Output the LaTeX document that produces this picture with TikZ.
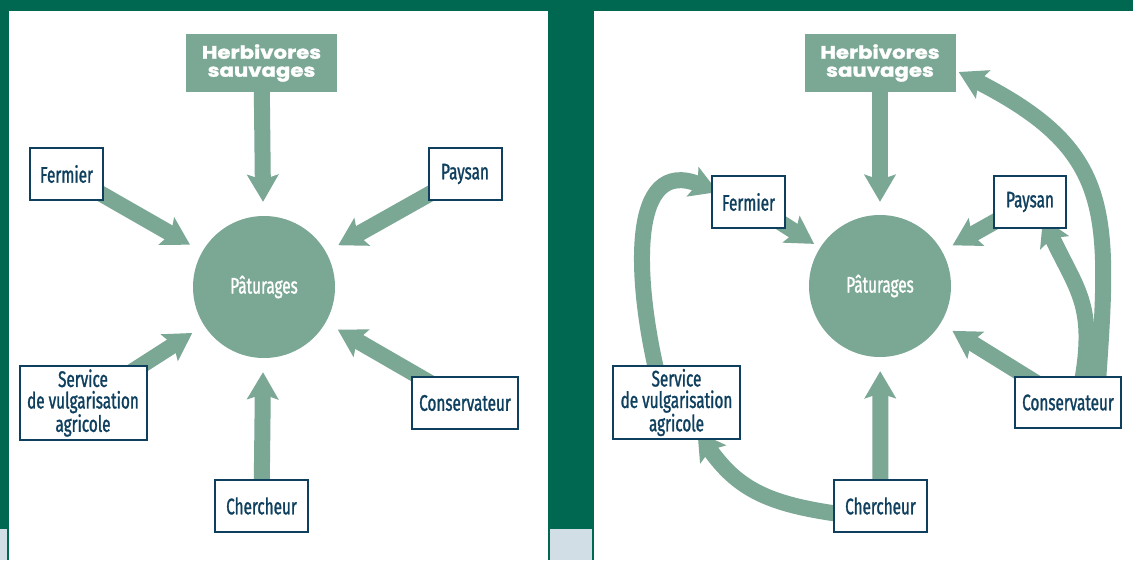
\documentclass[tikz,border=0pt]{standalone}
\usepackage{fontspec}
\usetikzlibrary{arrows.meta}
\newfontfamily\boxfont[FakeStretch=0.68,FakeBold=1.2]{Fira Sans}
\newfontfamily\headfont[FakeStretch=1.18,FakeBold=1.5]{Poppins}
\definecolor{darkgreen}{RGB}{0,104,80}
\definecolor{sage}{RGB}{123,167,149}
\definecolor{navy}{RGB}{14,63,94}
\definecolor{paleblue}{RGB}{209,222,230}
\pgfdeclarelayer{back}
\pgfdeclarelayer{links}
\pgfsetlayers{back,links,main}
\tikzset{
  actor/.style={draw=navy,line width=2pt,fill=white,text=navy,align=center,inner sep=0pt,
    font=\boxfont\fontsize{22.5}{21.5}\selectfont},
  wild/.style={fill=sage,text=white,align=center,inner sep=0pt,minimum width=151pt,minimum height=58pt,
    font=\headfont\bfseries\fontsize{18}{18}\selectfont},
  pasture/.style={circle,fill=sage,text=white,minimum size=142pt,inner sep=0pt,
    font=\boxfont\fontsize{22.5}{21.5}\selectfont},
  flow/.style={sage,line width=16pt,-{Stealth[length=27pt,width=31pt,inset=5pt]}},
}
\begin{document}
\begin{tikzpicture}[x=1pt,y=-1pt]
\useasboundingbox (0,0) rectangle (1133,560);
\begin{pgfonlayer}{back}
    \fill[darkgreen] (0,0) rectangle (1133,560);
    \fill[white] (9,11) rectangle (548,560);     % left panel
    \fill[white] (594,11) rectangle (1133,560);  % right panel
    \fill[paleblue] (0,529) rectangle (7,560);
    \fill[paleblue] (550,529) rectangle (592,560);
\end{pgfonlayer}

% left panel
    \node[wild] (herbL) at (261.5,63) {Herbivores\\sauvages};
    \node[pasture] (patL) at (264,287) {Pâturages};
    \node[actor,minimum width=73pt,minimum height=52pt] (fermL) at (66.5,174) {Fermier};
    \node[actor,minimum width=73pt,minimum height=52pt] (paysL) at (465,174) {Paysan};
    \node[actor,minimum width=127pt,minimum height=74pt] (servL) at (83,403) {Service\\de vulgarisation\\agricole};
    \node[actor,minimum width=106pt,minimum height=52pt] (consL) at (465,403) {Conservateur};
    \node[actor,minimum width=93pt,minimum height=52pt] (cherL) at (261.5,506) {Chercheur};

% right panel
    \node[wild] (herbR) at (880,63) {Herbivores\\sauvages};
    \node[pasture] (patR) at (880,286) {Pâturages};
    \node[actor,minimum width=73pt,minimum height=52pt] (fermR) at (748.5,202) {Fermier};
    \node[actor,minimum width=72pt,minimum height=52pt] (paysR) at (1030,202) {Paysan};
    \node[actor,minimum width=127pt,minimum height=73pt] (servR) at (676.5,402.5) {Service\\de vulgarisation\\agricole};
    \node[actor,minimum width=106pt,minimum height=51pt] (consR) at (1068,402.5) {Conservateur};
    \node[actor,minimum width=93pt,minimum height=52pt] (cherR) at (880.5,506) {Chercheur};

\begin{pgfonlayer}{links}
    \foreach \who in {herbL,fermL,paysL,servL,consL,cherL}
        \draw[flow,shorten >=14pt] (\who.center) -- (patL);
    \draw[flow,shorten >=13pt] (herbR.center) -- (patR);
    \draw[flow,shorten >=7pt] (fermR.center) -- (patR);
    \draw[flow,shorten >=12pt] (paysR.center) -- (patR);
    \draw[flow,shorten >=14pt] (consR.center) -- (patR);
    \draw[flow,shorten >=14pt] (cherR.center) -- (patR);
    % loops
    \draw[flow] ([xshift=-20pt,yshift=-6pt]servR.north) to[out=103,in=158,looseness=1.3] ([xshift=7pt,yshift=10pt]fermR.west);
    \draw[flow] ([xshift=6pt,yshift=-8pt]cherR.west) to[out=172,in=305,looseness=1.1] ([xshift=21pt,yshift=8pt]servR.south);
    \draw[flow] ([xshift=14pt,yshift=-6pt]consR.north) to[out=80,in=295,looseness=1.2] ([xshift=13pt,yshift=11pt]paysR.south);
    \draw[flow] ([xshift=30pt,yshift=-6pt]consR.north) to[out=86,in=333,looseness=1.3] ([xshift=3pt,yshift=-9pt]herbR.east);
\end{pgfonlayer}
\end{tikzpicture}
\end{document}
